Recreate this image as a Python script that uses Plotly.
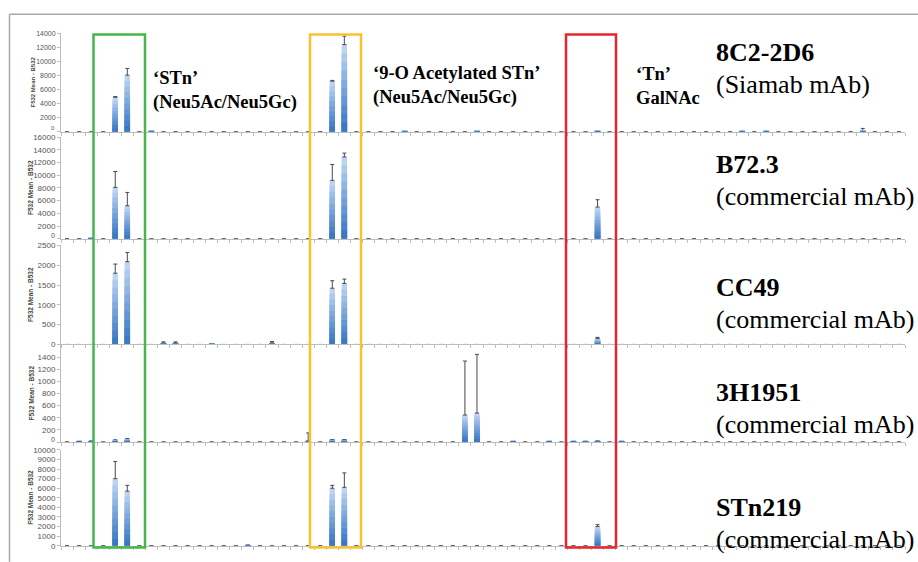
import plotly.graph_objects as go

# ---------------- data ----------------
N_CAT = 70
categories = list(range(N_CAT))

panel_names = ["8C2-2D6", "B72.3", "CC49", "3H1951", "STn219"]
panel_subs = ["(Siamab mAb)", "(commercial mAb)", "(commercial mAb)", "(commercial mAb)", "(commercial mAb)"]
y_max = [14000, 16000, 2500, 1600, 10000]
y_ticks = [
    [0, 2000, 4000, 6000, 8000, 10000, 12000, 14000],
    [0, 2000, 4000, 6000, 8000, 10000, 12000, 14000, 16000],
    [0, 500, 1000, 1500, 2000, 2500],
    [0, 200, 400, 600, 800, 1000, 1200, 1400],
    [0, 1000, 2000, 3000, 4000, 5000, 6000, 7000, 8000, 9000, 10000],
]

p1_val = [0, 0, 0, 0, 4900, 8050, 0, 100, 0, 0,
          0, 0, 0, 0, 0, 0, 0, 0, 0, 0,
          0, 0, 7200, 12400, 0, 0, 0, 0, 80, 0,
          0, 0, 0, 0, 80, 0, 0, 0, 0, 0,
          0, 0, 0, 0, 100, 0, 0, 0, 0, 0,
          0, 0, 0, 0, 0, 0, 80, 0, 80, 0,
          0, 0, 0, 0, 0, 0, 120, 0, 0, 0]
p1_err = [0, 0, 0, 0, 100, 950, 0, 0, 0, 0,
          0, 0, 0, 0, 0, 0, 0, 0, 0, 0,
          0, 0, 100, 1200, 0, 0, 0, 0, 0, 0,
          0, 0, 0, 0, 0, 0, 0, 0, 0, 0,
          0, 0, 0, 0, 0, 0, 0, 0, 0, 0,
          0, 0, 0, 0, 0, 0, 0, 0, 0, 0,
          0, 0, 0, 0, 0, 0, 350, 0, 0, 0]

p2_val = [0, 0, 100, 0, 8100, 5200, 0, 0, 0, 0,
          0, 0, 0, 0, 0, 0, 0, 0, 0, 0,
          0, 0, 9200, 12900, 0, 0, 0, 0, 0, 0,
          0, 0, 0, 0, 0, 0, 0, 0, 0, 0,
          0, 0, 0, 0, 5000, 0, 0, 0, 0, 0,
          0, 0, 0, 0, 0, 0, 0, 0, 0, 0,
          0, 0, 0, 0, 0, 0, 0, 0, 0, 0]
p2_err = [0, 0, 0, 0, 2500, 2100, 0, 0, 0, 0,
          0, 0, 0, 0, 0, 0, 0, 0, 0, 0,
          0, 0, 2500, 600, 0, 0, 0, 0, 0, 0,
          0, 0, 0, 0, 0, 0, 0, 0, 0, 0,
          0, 0, 0, 0, 1150, 0, 0, 0, 0, 0,
          0, 0, 0, 0, 0, 0, 0, 0, 0, 0,
          0, 0, 0, 0, 0, 0, 0, 0, 0, 0]

p3_val = [0, 0, 0, 0, 1800, 2090, 0, 0, 40, 40,
          0, 0, 10, 0, 0, 0, 0, 40, 0, 0,
          0, 0, 1420, 1540, 0, 0, 0, 0, 0, 0,
          0, 0, 0, 0, 0, 0, 0, 0, 0, 0,
          0, 0, 0, 0, 150, 0, 0, 0, 0, 0,
          0, 0, 0, 0, 0, 0, 0, 0, 0, 0,
          0, 0, 0, 0, 0, 0, 0, 0, 0, 0]
p3_err = [0, 0, 0, 0, 230, 230, 0, 0, 25, 25,
          0, 0, 0, 0, 0, 0, 0, 35, 0, 0,
          0, 0, 190, 110, 0, 0, 0, 0, 0, 0,
          0, 0, 0, 0, 0, 0, 0, 0, 0, 0,
          0, 0, 0, 0, 30, 0, 0, 0, 0, 0,
          0, 0, 0, 0, 0, 0, 0, 0, 0, 0,
          0, 0, 0, 0, 0, 0, 0, 0, 0, 0]

p4_val = [0, 10, 15, 0, 30, 50, 0, 0, 0, 0,
          0, 0, 0, 0, 0, 0, 0, 0, 0, 0,
          20, 0, 40, 40, 0, 0, 0, 0, 0, 0,
          0, 0, 0, 445, 478, 0, 0, 10, 0, 0,
          10, 0, 10, 10, 15, 0, 10, 0, 0, 0,
          0, 0, 0, 0, 0, 0, 0, 0, 0, 0,
          0, 0, 0, 0, 0, 0, 0, 0, 0, 0]
p4_err = [0, 0, 0, 0, 5, 5, 0, 0, 0, 0,
          0, 0, 0, 0, 0, 0, 0, 0, 0, 0,
          130, 0, 0, 0, 0, 0, 0, 0, 0, 0,
          0, 0, 0, 890, 967, 0, 0, 0, 0, 0,
          0, 0, 0, 0, 0, 0, 0, 0, 0, 0,
          0, 0, 0, 0, 0, 0, 0, 0, 0, 0,
          0, 0, 0, 0, 0, 0, 0, 0, 0, 0]

p5_val = [0, 0, 0, 0, 7000, 5700, 0, 0, 0, 0,
          0, 0, 0, 0, 0, 60, 0, 0, 0, 0,
          0, 0, 6000, 6100, 0, 0, 0, 0, 0, 0,
          0, 0, 0, 0, 0, 0, 0, 0, 0, 0,
          0, 0, 0, 0, 2000, 0, 0, 0, 0, 0,
          0, 0, 0, 0, 0, 0, 0, 0, 0, 0,
          0, 0, 0, 0, 0, 0, 0, 0, 0, 0]
p5_err = [0, 0, 0, 0, 1800, 600, 0, 0, 0, 0,
          0, 0, 0, 0, 0, 0, 0, 0, 0, 0,
          0, 0, 300, 1500, 0, 0, 0, 0, 0, 0,
          0, 0, 0, 0, 0, 0, 0, 0, 0, 0,
          0, 0, 0, 0, 200, 0, 0, 0, 0, 0,
          0, 0, 0, 0, 0, 0, 0, 0, 0, 0,
          0, 0, 0, 0, 0, 0, 0, 0, 0, 0]

values = [p1_val, p2_val, p3_val, p4_val, p5_val]
errors = [p1_err, p2_err, p3_err, p4_err, p5_err]

# ---------------- layout helpers (pixels -> paper) ----------------
W, H = 918, 562
L, R, T, B = 61, 13, 33, 11
PW, PH = W - L - R, H - T - B

SERIF = "Liberation Serif, Times New Roman, Times, serif"
SANS = "Liberation Sans, Arial, sans-serif"


def px_x(px):
    return (px - L) / PW


def px_y(py):
    return (H - B - py) / PH


def px_to_cat(px):
    return (px - L) / PW * N_CAT - 0.5


# panel pixel extents (top, zero line)
panel_px = [(33.3, 132.7), (138.3, 240.7), (247.5, 347.5), (348.0, 446.0), (454.0, 550.7)]
# panels whose "0" label collides with the next panel's top label
zero_shift = [3.5, 3.5, 0, 3.0, 0]

fig = go.Figure()

# gradient colours (top light -> bottom dark)
grad = ["#bcd3f1", "#adc9ed", "#9ebfe9", "#8fb5e4", "#80aadf",
        "#71a0da", "#6396d5", "#558cd0", "#4882ca", "#3c79c4"]
fracs = [1.0, 0.9, 0.8, 0.7, 0.6, 0.5, 0.4, 0.3, 0.2, 0.1]

annotations = []
for i in range(5):
    ax = "" if i == 0 else str(i + 1)
    vals = values[i]
    errs = [e if e > 0 else None for e in errors[i]]
    for k, (f, c) in enumerate(zip(fracs, grad)):
        tr = dict(
            x=categories,
            y=[v * f for v in vals],
            marker=dict(color=c, line=dict(width=0)),
            width=0.45,
            xaxis="x" + ax,
            yaxis="y" + ax,
            showlegend=False,
            hoverinfo="skip",
        )
        if k == 0:
            tr["error_y"] = dict(type="data", symmetric=False, array=errs,
                                 arrayminus=[None] * N_CAT,
                                 color="#4a4a4a", thickness=1, width=2)
        fig.add_trace(go.Bar(**tr))

    top, zero = panel_px[i]
    fs = 7 if i == 0 else 8
    tv = list(y_ticks[i])
    if zero_shift[i] > 0:
        tv_lab = [t if t != 0 else "" for t in tv]
    else:
        tv_lab = tv
    xa = dict(
        domain=[0, 1], range=[-0.5, N_CAT - 0.5], anchor="y" + ax,
        showline=True, linecolor="#bdbdbd", linewidth=1,
        ticks="outside", ticklen=3, tickcolor="#bdbdbd", tickwidth=1,
        tickmode="linear", tick0=-0.5, dtick=1,
        showticklabels=False, showgrid=False, zeroline=False, fixedrange=True,
    )
    ya = dict(
        domain=[px_y(zero), px_y(top)], range=[0, y_max[i]], anchor="x" + ax,
        showline=True, linecolor="#bdbdbd", linewidth=1,
        ticks="outside", ticklen=3, tickcolor="#bdbdbd",
        tickvals=tv, ticktext=[str(t) for t in tv_lab],
        tickfont=dict(family=SANS, size=fs, color="#555555"),
        showgrid=False, zeroline=False, fixedrange=True,
    )
    fig.layout["xaxis" + ax] = xa
    fig.layout["yaxis" + ax] = ya

    if zero_shift[i] > 0:
        annotations.append(dict(
            x=px_x(56), y=px_y(zero - zero_shift[i]), xref="paper", yref="paper",
            text="0", showarrow=False, xanchor="right", yanchor="middle", borderpad=0,
            font=dict(family=SANS, size=fs - 1, color="#555555")))

    # y-axis title
    annotations.append(dict(
        x=px_x(33 if i == 0 else 31), y=(px_y(top) + px_y(zero)) / 2,
        xref="paper", yref="paper", text="<b>F532 Mean - B532</b>",
        textangle=-90, showarrow=False, xanchor="center", yanchor="middle",
        font=dict(family=SANS, size=6 if i == 0 else 6.5, color="#444444")))

    # right-hand antibody labels
    name_y = [53, 166, 290, 396, 512][i]
    annotations.append(dict(x=px_x(714), y=px_y(name_y), xref="paper", yref="paper",
                            text="<b>" + panel_names[i] + "</b>", showarrow=False,
                            xanchor="left", yanchor="middle",
                            font=dict(family=SERIF, size=26, color="#000000")))
    annotations.append(dict(x=px_x(714), y=px_y(name_y + 32), xref="paper", yref="paper",
                            text=panel_subs[i], showarrow=False,
                            xanchor="left", yanchor="middle",
                            font=dict(family=SERIF, size=26, color="#000000")))

# glycan group labels
group_labels = [
    (151, 78, "<b>\u2018STn\u2019</b>", "<b>(Neu5Ac/Neu5Gc)</b>"),
    (371, 73, "<b>\u20189-O Acetylated STn\u2019</b>", "<b>(Neu5Ac/Neu5Gc)</b>"),
    (634, 74, "<b>\u2018Tn\u2019</b>", "<b>GalNAc</b>"),
]
for gx, gy, l1, l2 in group_labels:
    annotations.append(dict(x=px_x(gx), y=px_y(gy), xref="paper", yref="paper", text=l1,
                            showarrow=False, xanchor="left", yanchor="middle",
                            font=dict(family=SERIF, size=18.5, color="#000000")))
    annotations.append(dict(x=px_x(gx), y=px_y(gy + 25), xref="paper", yref="paper", text=l2,
                            showarrow=False, xanchor="left", yanchor="middle",
                            font=dict(family=SERIF, size=18.5, color="#000000")))

# highlight boxes
boxes = [(93.5, 145, "#45b649"), (310, 361, "#f9c230"), (566, 616, "#e5262d")]
shapes = []
for x0, x1, col in boxes:
    shapes.append(dict(type="rect", xref="x", yref="paper",
                       x0=px_to_cat(x0), x1=px_to_cat(x1),
                       y0=px_y(552.5), y1=px_y(34.5),
                       line=dict(color=col, width=2.5), fillcolor="rgba(0,0,0,0)"))
# outer frame
shapes.append(dict(type="line", xref="paper", yref="paper",
                   x0=px_x(9.5), x1=px_x(W + 5), y0=px_y(14), y1=px_y(14),
                   line=dict(color="#a8a8a8", width=1.5)))
shapes.append(dict(type="line", xref="paper", yref="paper",
                   x0=px_x(9.5), x1=px_x(9.5), y0=px_y(14), y1=px_y(H + 5),
                   line=dict(color="#a8a8a8", width=1.5)))

fig.update_layout(
    width=W, height=H,
    margin=dict(l=L, r=R, t=T, b=B),
    paper_bgcolor="white", plot_bgcolor="white",
    barmode="overlay", bargap=0.55,
    shapes=shapes, annotations=annotations,
    showlegend=False,
)

fig.write_html("out.html", config={"displayModeBar": False})
